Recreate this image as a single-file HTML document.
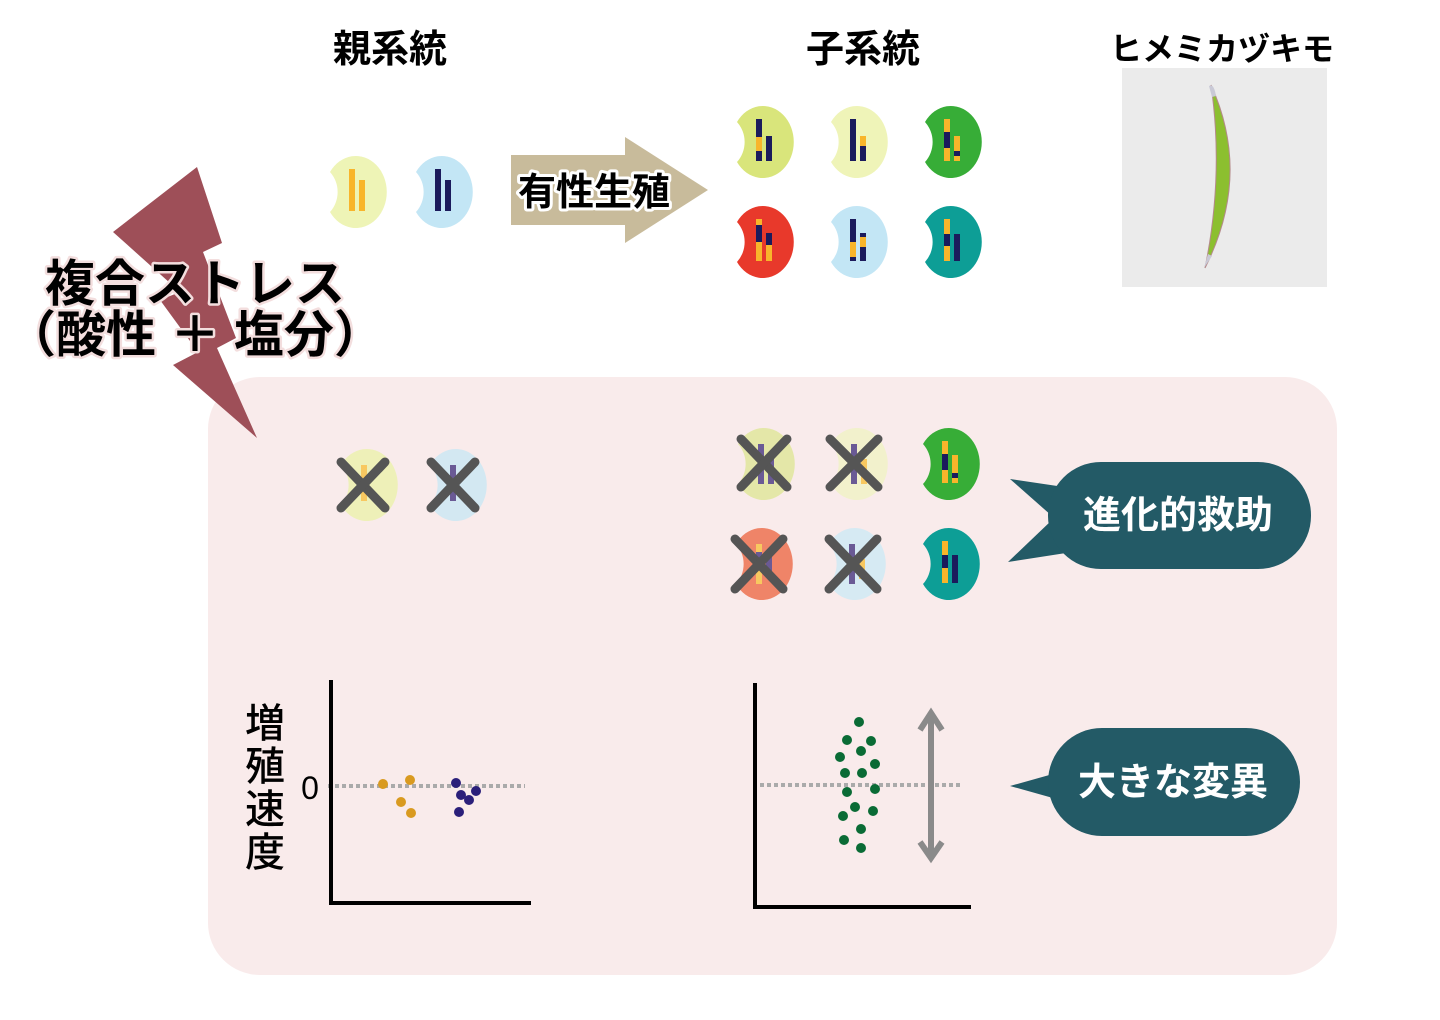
<!DOCTYPE html>
<html><head><meta charset="utf-8"><style>
html,body{margin:0;padding:0;background:#fff;}
svg{display:block;}
text{font-family:"Liberation Sans","Noto Sans CJK JP",sans-serif;}
</style></head><body>
<svg width="1440" height="1020" viewBox="0 0 1440 1020" xmlns="http://www.w3.org/2000/svg">
<defs>
<path id="cell" d="M-26,-20 A31 36 0 1 1 -26,20 A30 30 0 0 0 -26,-20 Z"/>
</defs>
<rect x="208" y="377" width="1129" height="598" rx="52" fill="#f9ebeb"/>

<text x="390" y="62" font-size="38" font-weight="bold" text-anchor="middle">親系統</text>
<text x="863" y="62" font-size="38" font-weight="bold" text-anchor="middle">子系統</text>
<text x="1222" y="60" font-size="32" font-weight="bold" text-anchor="middle">ヒメミカヅキモ</text>

<rect x="1122" y="68" width="205" height="219" fill="#ebebeb"/>
<path d="M1211,85 Q1252,175 1205,268 Q1224,175 1211,85 Z" fill="#8cbf2f" stroke="#b48a8a" stroke-width="1"/>
<path d="M1209,86 Q1214,83 1216,96 L1212,97 Z" fill="#c9c9d6"/>
<path d="M1204,268 L1208,254 L1212,256 Z" fill="#c9c9d6"/>

<g transform="translate(356,192)"><use href="#cell" fill="#eef4b6"/>
<rect x="-7" y="-23" width="6" height="42" fill="#f8b52b"/><rect x="3" y="-12" width="6" height="31" fill="#f8b52b"/></g>
<g transform="translate(442,192)"><use href="#cell" fill="#c3e6f5"/>
<rect x="-7" y="-23" width="6" height="42" fill="#1b1b5c"/><rect x="3" y="-12" width="6" height="31" fill="#1b1b5c"/></g>

<polygon points="511,155 625,155 625,137 708,190 625,243 625,225 511,225" fill="#c8bb9b"/>
<text x="594" y="205" font-size="38" font-weight="bold" text-anchor="middle" fill="#000" stroke="#fff" stroke-width="6" paint-order="stroke" stroke-linejoin="round">有性生殖</text>

<g transform="translate(763,142)"><use href="#cell" fill="#d9e57b"/>
<rect x="-7" y="-23" width="6" height="42" fill="#1b1b5c"/><rect x="-7" y="-5" width="6" height="14" fill="#f8b52b"/><rect x="3" y="-6" width="6" height="25" fill="#1b1b5c"/></g>
<g transform="translate(857,142)"><use href="#cell" fill="#eff4b8"/>
<rect x="-7" y="-23" width="6" height="42" fill="#1b1b5c"/><rect x="3" y="-6" width="6" height="25" fill="#1b1b5c"/><rect x="3" y="-6" width="6" height="10" fill="#f8b52b"/></g>
<g transform="translate(951,142)"><use href="#cell" fill="#37ad37"/>
<rect x="-7" y="-23" width="6" height="42" fill="#f8b52b"/><rect x="-7" y="-10" width="6" height="16" fill="#1b1b5c"/><rect x="3" y="-6" width="6" height="25" fill="#f8b52b"/><rect x="3" y="9" width="6" height="5" fill="#1b1b5c"/></g>
<g transform="translate(763,242)"><use href="#cell" fill="#e8392b"/>
<rect x="-7" y="-23" width="6" height="42" fill="#1b1b5c"/><rect x="-7" y="-23" width="6" height="6" fill="#f8b52b"/><rect x="-7" y="0" width="6" height="19" fill="#f8b52b"/><rect x="3" y="-9" width="6" height="28" fill="#f8b52b"/><rect x="3" y="-9" width="6" height="12" fill="#1b1b5c"/></g>
<g transform="translate(857,242)"><use href="#cell" fill="#c3e6f5"/>
<rect x="-7" y="-23" width="6" height="42" fill="#1b1b5c"/><rect x="-7" y="0" width="6" height="15" fill="#f8b52b"/><rect x="3" y="-9" width="6" height="28" fill="#1b1b5c"/><rect x="3" y="-5" width="6" height="10" fill="#f8b52b"/></g>
<g transform="translate(951,242)"><use href="#cell" fill="#0d9e96"/>
<rect x="-7" y="-23" width="6" height="42" fill="#f8b52b"/><rect x="-7" y="-8" width="6" height="12" fill="#1b1b5c"/><rect x="3" y="-8" width="6" height="27" fill="#1b1b5c"/></g>

<polygon points="197,167 222,243 203,252 236,338 217,348 257,438 173,365 198,352 160,300 180,292 113,232" fill="#9e4f58"/>
<g font-size="50" font-weight="bold" fill="#000" stroke="#f3dede" stroke-width="5" paint-order="stroke" stroke-linejoin="round">
<text x="195" y="301" text-anchor="middle">複合ストレス</text>
<text x="195" y="352" text-anchor="middle">（酸性 ＋ 塩分）</text>
</g>

<g transform="translate(367,485)"><use href="#cell" fill="#eef0b8"/>
<rect x="-6" y="-20" width="6" height="36" fill="#f8c860"/></g>
<g transform="translate(456,485)"><use href="#cell" fill="#d3e8f2"/>
<rect x="-6" y="-20" width="6" height="36" fill="#6a5a95"/></g>
<g stroke="#555" stroke-width="9" stroke-linecap="round">
<line x1="341" y1="462" x2="385" y2="508"/><line x1="385" y1="462" x2="341" y2="508"/>
<line x1="431" y1="462" x2="475" y2="508"/><line x1="475" y1="462" x2="431" y2="508"/>
</g>

<g transform="translate(764,464)"><use href="#cell" fill="#e4e7a8"/>
<rect x="-6" y="-20" width="6" height="40" fill="#6a5a95"/><rect x="4" y="-5" width="6" height="25" fill="#6a5a95"/></g>
<g transform="translate(857,464)"><use href="#cell" fill="#f2f1cc"/>
<rect x="-6" y="-20" width="6" height="40" fill="#6a5a95"/><rect x="4" y="-5" width="6" height="25" fill="#f8c860"/></g>
<g transform="translate(949,464)"><use href="#cell" fill="#37ad37"/>
<rect x="-7" y="-23" width="6" height="42" fill="#f8b52b"/><rect x="-7" y="-10" width="6" height="16" fill="#1b1b5c"/><rect x="3" y="-9" width="6" height="28" fill="#f8b52b"/><rect x="3" y="9" width="6" height="5" fill="#1b1b5c"/></g>
<g transform="translate(762,564)"><use href="#cell" fill="#ef8468"/>
<rect x="-6" y="-20" width="6" height="40" fill="#f8c860"/><rect x="-6" y="-12" width="6" height="14" fill="#6a5a95"/><rect x="4" y="-8" width="6" height="20" fill="#6a5a95"/></g>
<g transform="translate(855,564)"><use href="#cell" fill="#d6eaf3"/>
<rect x="-6" y="-20" width="6" height="40" fill="#6a5a95"/><rect x="4" y="-5" width="6" height="20" fill="#f8c860"/></g>
<g transform="translate(949,564)"><use href="#cell" fill="#0d9e96"/>
<rect x="-7" y="-23" width="6" height="42" fill="#f8b52b"/><rect x="-7" y="-9" width="6" height="13" fill="#1b1b5c"/><rect x="3" y="-9" width="6" height="28" fill="#1b1b5c"/></g>
<g stroke="#555" stroke-width="9" stroke-linecap="round">
<line x1="741" y1="439" x2="787" y2="487"/><line x1="787" y1="439" x2="741" y2="487"/>
<line x1="830" y1="439" x2="878" y2="487"/><line x1="878" y1="439" x2="830" y2="487"/>
<line x1="735" y1="539" x2="783" y2="589"/><line x1="783" y1="539" x2="735" y2="589"/>
<line x1="829" y1="539" x2="877" y2="589"/><line x1="877" y1="539" x2="829" y2="589"/>
</g>

<polygon points="1010,479 1064,487 1052,516" fill="#235a66"/>
<polygon points="1008,562 1052,520 1066,553" fill="#235a66"/>
<rect x="1048" y="462" width="263" height="107" rx="53" fill="#235a66"/>
<text x="1178" y="528" font-size="38" font-weight="bold" fill="#fff" text-anchor="middle">進化的救助</text>
<path d="M1010,786 L1060,772 L1060,800 Z" fill="#235a66"/>
<rect x="1048" y="728" width="252" height="108" rx="54" fill="#235a66"/>
<text x="1173" y="795" font-size="38" font-weight="bold" fill="#fff" text-anchor="middle">大きな変異</text>

<line x1="328" y1="786" x2="525" y2="786" stroke="#aaa" stroke-width="4" stroke-dasharray="4,3"/>
<path d="M331,680 L331,903 L531,903" fill="none" stroke="#000" stroke-width="4"/>
<text x="310" y="799" font-size="32" text-anchor="middle">0</text>
<g font-size="40" text-anchor="middle" font-weight="500">
<text x="265" y="737">増</text><text x="265" y="780">殖</text><text x="265" y="823">速</text><text x="265" y="866">度</text>
</g>
<g fill="#d99a20"><circle cx="383" cy="784" r="5"/><circle cx="410" cy="780" r="5"/><circle cx="401" cy="802" r="5"/><circle cx="411" cy="813" r="5"/></g>
<g fill="#2b1f7a"><circle cx="456" cy="783" r="5"/><circle cx="461" cy="795" r="5"/><circle cx="469" cy="800" r="5"/><circle cx="476" cy="791" r="5"/><circle cx="459" cy="812" r="5"/></g>

<line x1="760" y1="785" x2="962" y2="785" stroke="#aaa" stroke-width="4" stroke-dasharray="4,3"/>
<path d="M755,683 L755,907 L971,907" fill="none" stroke="#000" stroke-width="4"/>
<g fill="#0a6b35">
<circle cx="859" cy="722" r="5"/><circle cx="847" cy="740" r="5"/><circle cx="871" cy="741" r="5"/><circle cx="861" cy="751" r="5"/><circle cx="840" cy="757" r="5"/><circle cx="875" cy="764" r="5"/><circle cx="845" cy="773" r="5"/><circle cx="862" cy="773" r="5"/><circle cx="847" cy="792" r="5"/><circle cx="875" cy="789" r="5"/><circle cx="855" cy="807" r="5"/><circle cx="873" cy="811" r="5"/><circle cx="843" cy="816" r="5"/><circle cx="861" cy="829" r="5"/><circle cx="844" cy="840" r="5"/><circle cx="861" cy="848" r="5"/>
</g>
<g stroke="#8a8a8a" stroke-width="6" fill="none">
<line x1="931" y1="713" x2="931" y2="858"/>
<polyline points="920,730 931,713 942,730"/>
<polyline points="920,842 931,858 942,842"/>
</g>
</svg>
</body></html>
